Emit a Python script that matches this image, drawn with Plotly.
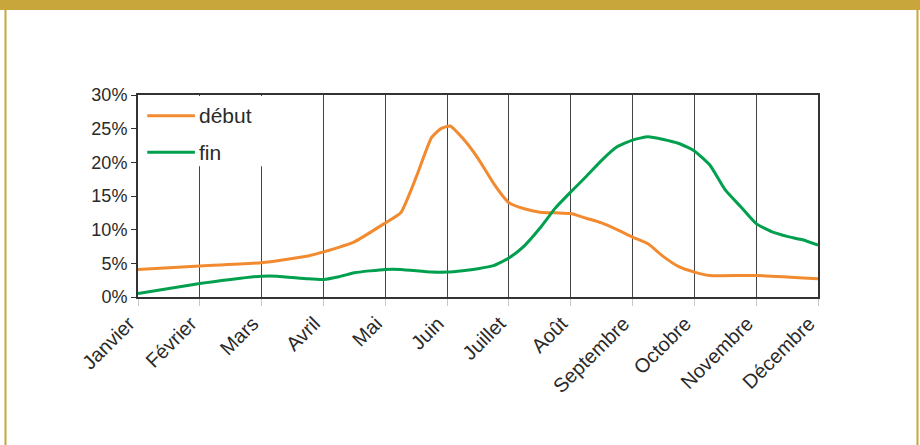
import plotly.graph_objects as go

months = ["Janvier", "Février", "Mars", "Avril", "Mai", "Juin", "Juillet",
          "Août", "Septembre", "Octobre", "Novembre", "Décembre"]

# position along the year (0 = Janvier ... 11 = Décembre)
debut_x = [0, 1, 2, 2.75, 3, 3.5, 4, 4.25, 4.5, 4.75, 4.9, 5.05, 5.25, 5.5, 5.75,
           5.9, 6, 6.25, 6.5, 6.75, 7, 7.25, 7.5, 7.75, 8, 8.25, 8.5, 8.75, 9,
           9.25, 10, 11]
debut_y = [4.1, 4.6, 5.1, 6.1, 6.7, 8.2, 11.0, 12.5, 17.8, 23.7, 25.0, 25.4,
           23.6, 20.6, 16.9, 15.0, 14.0, 13.1, 12.6, 12.5, 12.4, 11.7, 11.0,
           10.0, 8.9, 7.9, 6.0, 4.5, 3.7, 3.2, 3.2, 2.7]

fin_x = [0, 1, 1.5, 2, 2.25, 2.75, 3, 3.25, 3.5, 4, 4.25, 4.75, 5, 5.25, 5.5,
         5.75, 6, 6.25, 6.5, 6.75, 7, 7.25, 7.5, 7.75, 8, 8.25, 8.5, 8.75, 9,
         9.25, 9.5, 9.75, 10, 10.25, 10.5, 10.75, 11]
fin_y = [0.5, 2.0, 2.6, 3.1, 3.1, 2.7, 2.6, 3.0, 3.6, 4.1, 4.1, 3.7, 3.7, 3.9,
         4.2, 4.65, 5.8, 7.6, 10.2, 13.2, 15.6, 17.9, 20.3, 22.3, 23.3, 23.8,
         23.4, 22.8, 21.7, 19.6, 15.9, 13.4, 10.9, 9.7, 9.0, 8.5, 7.7]

y_ticks = [0, 5, 10, 15, 20, 25, 30]

ORANGE = "#F28A30"
GREEN = "#00A04E"
GOLD = "#C9A63C"
TEXT = "#2a2a2a"
FONT = "Liberation Sans, Arial, sans-serif"

fig = go.Figure()
fig.add_trace(go.Scatter(x=debut_x, y=debut_y, mode="lines", name="début",
                         line=dict(color=ORANGE, width=3, shape="spline", smoothing=0.5),
                         cliponaxis=False))
fig.add_trace(go.Scatter(x=fin_x, y=fin_y, mode="lines", name="fin",
                         line=dict(color=GREEN, width=3, shape="spline", smoothing=0.5),
                         cliponaxis=False))

shapes = []
# white patch hiding gridlines behind the legend
shapes.append(dict(type="rect", xref="x", yref="y", x0=0.5, x1=2.5, y0=19.4, y1=29.85,
                   fillcolor="white", line=dict(width=0), layer="between"))
# legend lines
shapes.append(dict(type="line", xref="x", yref="y", x0=0.15, x1=0.92, y0=26.9, y1=26.9,
                   line=dict(color=ORANGE, width=3)))
shapes.append(dict(type="line", xref="x", yref="y", x0=0.15, x1=0.92, y0=21.5, y1=21.5,
                   line=dict(color=GREEN, width=3)))

annotations = [
    dict(x=0.93, y=26.9, xref="x", yref="y", text="début", showarrow=False,
         xanchor="left", yanchor="middle", xshift=2,
         font=dict(family=FONT, size=21, color=TEXT)),
    dict(x=0.93, y=21.5, xref="x", yref="y", text="fin", showarrow=False,
         xanchor="left", yanchor="middle", xshift=2,
         font=dict(family=FONT, size=21, color=TEXT)),
]

fig.update_layout(
    width=920, height=445,
    margin=dict(l=138, r=102, t=95, b=148),
    paper_bgcolor="white", plot_bgcolor="white",
    showlegend=False,
    font=dict(family=FONT, size=18, color=TEXT),
    shapes=shapes,
    annotations=annotations,
)
fig.update_xaxes(
    range=[0, 11], tickmode="array", tickvals=list(range(12)), ticktext=months,
    tickangle=-45, showgrid=True, gridcolor="#444", gridwidth=1,
    showline=True, linecolor="#333", linewidth=2, mirror=True,
    ticks="outside", ticklen=7, tickcolor="#C8C8D0", tickwidth=1,
    ticklabelshift=-9, ticklabelstandoff=-2,
    tickfont=dict(family=FONT, size=20, color=TEXT), zeroline=False,
)
fig.update_yaxes(
    range=[0, 30], tickmode="array", tickvals=y_ticks,
    ticktext=[f"{v}%" for v in y_ticks], showgrid=False,
    showline=True, linecolor="#333", linewidth=2, mirror=True,
    ticks="outside", ticklen=5, tickcolor="#333",
    tickfont=dict(family=FONT, size=18, color=TEXT), zeroline=False,
)

# golden frame drawn in pixel-equivalent paper coordinates
pw = 920 - 138 - 102
ph = 445 - 95 - 148
def px(xp):
    return (xp - 138) / pw
def py(yp):
    return (445 - 148 - yp) / ph
fig.add_shape(type="rect", xref="paper", yref="paper", x0=px(0), x1=px(920),
              y0=py(10), y1=py(0), fillcolor=GOLD, line=dict(width=0))
fig.add_shape(type="line", xref="paper", yref="paper", x0=px(5.5), x1=px(5.5),
              y0=py(445), y1=py(10), line=dict(color=GOLD, width=2))
fig.add_shape(type="line", xref="paper", yref="paper", x0=px(917.5), x1=px(917.5),
              y0=py(445), y1=py(10), line=dict(color=GOLD, width=2))

fig.write_html("out.html", config={"displayModeBar": False},
               post_script="document.body.style.margin='0';")
